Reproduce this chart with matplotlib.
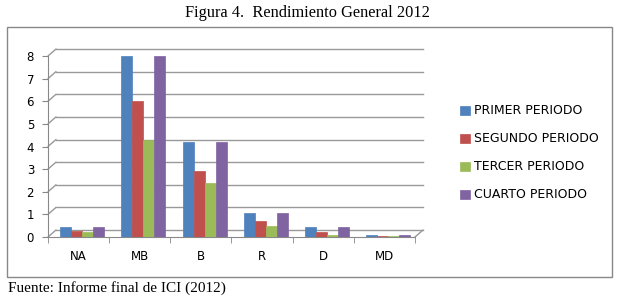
import matplotlib.pyplot as plt
import numpy as np
from matplotlib.patches import Rectangle
from matplotlib.transforms import ScaledTranslation

categories = ['NA', 'MB', 'B', 'R', 'D', 'MD']
series = ['PRIMER PERIODO', 'SEGUNDO PERIODO', 'TERCER PERIODO', 'CUARTO PERIODO']
primer = [0.45, 8.0, 4.2, 1.05, 0.45, 0.08]
segundo = [0.25, 6.0, 2.9, 0.7, 0.2, 0.06]
tercer = [0.2, 4.3, 2.4, 0.5, 0.08, 0.06]
cuarto = [0.45, 8.0, 4.2, 1.05, 0.45, 0.08]
colors = ['#4F81BD', '#C0504D', '#9BBB59', '#8064A2']

fig = plt.figure(figsize=(6.27, 2.99), dpi=100)
fig.patches.append(Rectangle((7 / 627, 1 - 277 / 299), 605 / 627, 250 / 299,
                             transform=fig.transFigure, fill=False,
                             edgecolor='#888888', linewidth=1.0))
fig.text(307 / 627, 1 - 13 / 299, 'Figura 4.  Rendimiento General 2012', ha='center', va='center',
         fontsize=11.8, family='Liberation Serif')
fig.text(8 / 627, 1 - 288 / 299, 'Fuente: Informe final de ICI (2012)', ha='left', va='center',
         fontsize=11, family='Liberation Serif')

ax = fig.add_axes([48 / 627, 1 - 237 / 299, 367 / 627, 181 / 299])
n = len(categories)
x = np.arange(n)
w = 0.18

# back wall gridlines (3D look), shifted right/up
back = ax.transData + ScaledTranslation(8 / 100, 7 / 100, fig.dpi_scale_trans)
for yv in range(9):
    ax.plot([-0.5, n - 0.5], [yv, yv], color='#999999', lw=1.0, transform=back,
            zorder=0, clip_on=False)
    ax.annotate('', xy=(-0.5, yv), xycoords=back, xytext=(-0.5, yv), textcoords='data',
                arrowprops=dict(arrowstyle='-', color='#999999', lw=1.0, shrinkA=0, shrinkB=0),
                zorder=0, annotation_clip=False)
ax.annotate('', xy=(n - 0.5, 0), xycoords=back, xytext=(n - 0.5, 0), textcoords='data',
            arrowprops=dict(arrowstyle='-', color='#999999', lw=1.0, shrinkA=0, shrinkB=0),
            zorder=0, annotation_clip=False)

for i, (vals, name) in enumerate(zip([primer, segundo, tercer, cuarto], series)):
    ax.bar(x + 0.06 + (i - 1.5) * w, vals, width=w, color=colors[i], label=name,
           edgecolor=colors[i], linewidth=0.5, zorder=3)

ax.set_xlim(-0.5, n - 0.5)
ax.set_ylim(0, 8)
ax.set_yticks(range(9))
ax.set_xticks(x)
ax.set_xticklabels(categories)
ax.set_xticks(np.arange(-0.5, n), minor=True)
ax.tick_params(axis='x', which='major', length=0, pad=9, labelsize=8.5)
ax.tick_params(axis='x', which='minor', length=4, color='#888888')
ax.tick_params(axis='y', length=4, color='#888888', labelsize=8.5, pad=6)
for s in ['top', 'right']:
    ax.spines[s].set_visible(False)
for s in ['left', 'bottom']:
    ax.spines[s].set_color('#888888')

ax.legend(loc='center left', bbox_to_anchor=(449 / 627, 1 - 153 / 299),
          bbox_transform=fig.transFigure, frameon=False, fontsize=9,
          handlelength=0.75, handleheight=0.75, labelspacing=1.2, handletextpad=0.35)

fig.savefig('out.png', dpi=100)
